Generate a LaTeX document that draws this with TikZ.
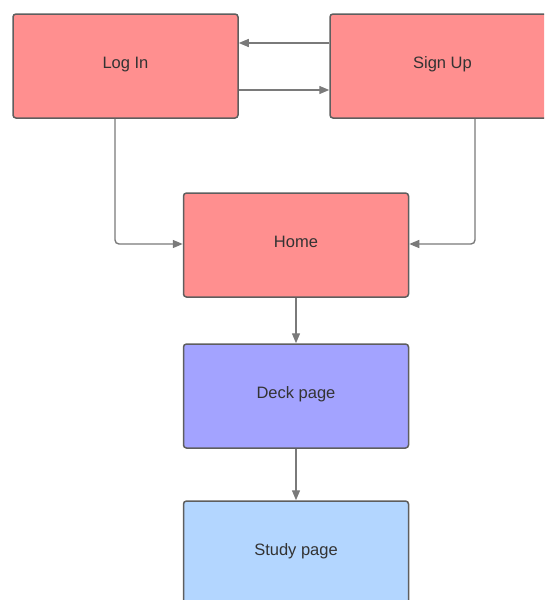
\documentclass[tikz,border=0pt]{standalone}
\usepackage{fontspec}
\setmainfont{Liberation Sans}
\usetikzlibrary{arrows.meta}
\definecolor{redfill}{HTML}{FF8F8F}
\definecolor{purplefill}{HTML}{A3A3FF}
\definecolor{bluefill}{HTML}{B3D6FF}
\definecolor{bordergray}{HTML}{5E5E5E}
\definecolor{linegray}{HTML}{7A7A7A}
\definecolor{txt}{HTML}{333333}
\begin{document}
\begin{tikzpicture}[x=1pt,y=-1pt,
  box/.style={draw=bordergray, line width=1.5pt, rounded corners=3pt,
    minimum width=225pt, minimum height=104pt, inner sep=0pt,
    text=txt, font=\fontsize{16.5pt}{20pt}\selectfont, text depth=7pt},
  conn/.style={draw=linegray, line width=1.4pt, rounded corners=4pt,
    -{Triangle[length=10pt,width=8pt]}}]
\useasboundingbox (0,0) rectangle (544,600);
\clip (0,0) rectangle (544,600);
\node[box, fill=redfill] (login) at (125.5,66) {Log In};
\node[box, fill=redfill] (signup) at (442.5,66) {Sign Up};
\node[box, fill=redfill] (home) at (296,245) {Home};
\node[box, fill=purplefill] (deck) at (296,396) {Deck page};
\node[box, fill=bluefill] (study) at (296,553) {Study page};
\coordinate (c1) at (115,244);
\coordinate (c2) at (475,244);
\draw[conn] (signup.west |- 0,43) -- (login.east |- 0,43);
\draw[conn] (login.east |- 0,90) -- (signup.west |- 0,90);
\draw[conn] (login.south -| c1) -- (c1) -- (home.west |- c1);
\draw[conn] (signup.south -| c2) -- (c2) -- (home.east |- c2);
\draw[conn] (home) -- (deck);
\draw[conn] (deck) -- (study);
\end{tikzpicture}
\end{document}
